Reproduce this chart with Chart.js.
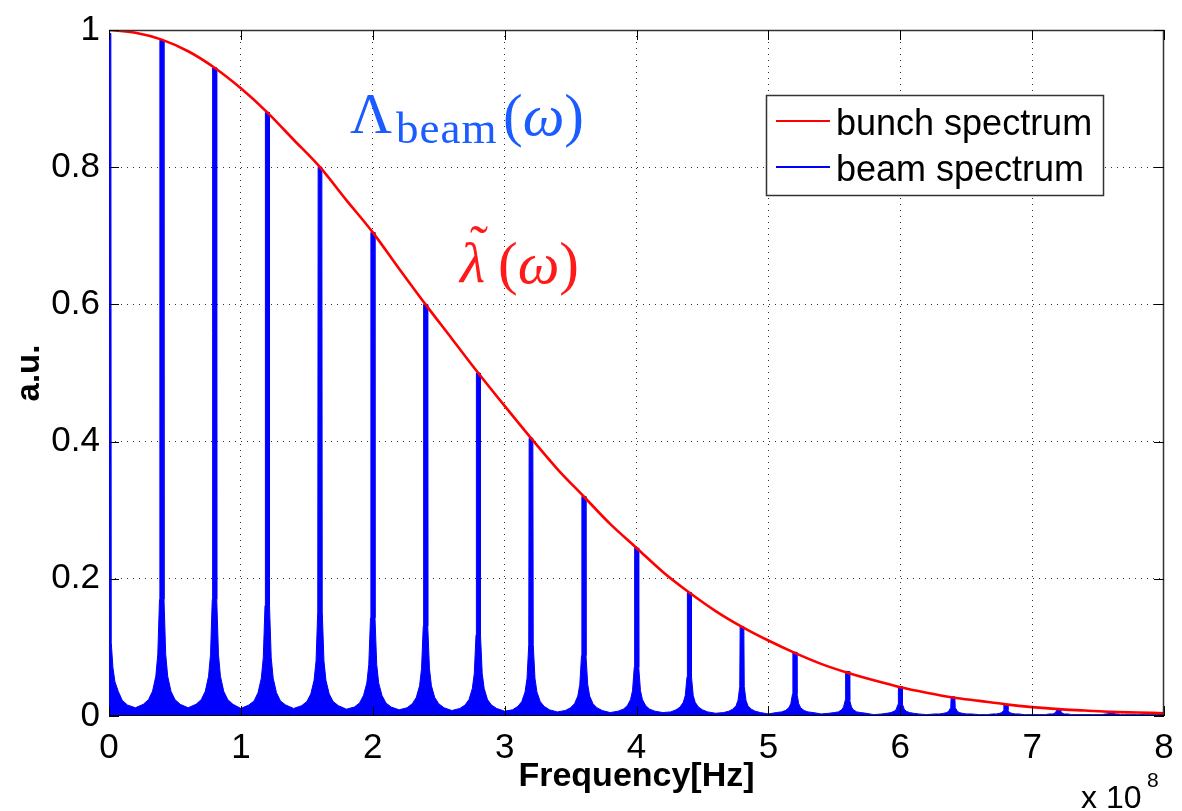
<!DOCTYPE html>
<html>
<head>
<meta charset="utf-8">
<script src="https://cdn.jsdelivr.net/npm/chart.js@4.4.0/dist/chart.umd.min.js"></script>
<style>
  html, body { margin: 0; padding: 0; background: #fff; }
  #wrap { position: relative; width: 1182px; height: 811px; }
  .math { position: absolute; font-family: "Liberation Serif", "DejaVu Serif", serif; white-space: nowrap; line-height: 1; }
  .blue { color: #1a5cff; }
  .red { color: #ff1a1a; }
</style>
</head>
<body>
<div id="wrap">
  <canvas id="spectrumChart"></canvas>
  <div class="math blue" style="left:350px; top:85px; font-size:58px;">Λ</div>
  <div class="math blue" style="left:396px; top:106px; font-size:45px; letter-spacing:1px;">beam</div>
  <div class="math blue" style="left:503px; top:86px; font-size:59px;">(<i>ω</i>)</div>
  <div class="math red" style="left:460px; top:234px; font-size:58px;"><i>λ</i></div>
  <div class="math red" style="left:470px; top:218px; font-size:54px;">˜</div>
  <div class="math red" style="left:498px; top:234px; font-size:59px;">(<i>ω</i>)</div>
</div>
<script>
// bunch spectrum (red), read every 0.2 x 10^8 Hz
const bunchFreq = [0, 0.2, 0.4, 0.6, 0.8, 1.0, 1.2, 1.4, 1.6, 1.8, 2.0, 2.2, 2.4, 2.6, 2.8, 3.0, 3.2, 3.4, 3.6, 3.8,
                   4.0, 4.2, 4.4, 4.6, 4.8, 5.0, 5.2, 5.4, 5.6, 5.8, 6.0, 6.2, 6.4, 6.6, 6.8, 7.0, 7.2, 7.4, 7.6, 7.8, 8.0];
const bunchValue = [1.0, 0.996, 0.986, 0.969, 0.945, 0.915, 0.88, 0.84, 0.80, 0.752, 0.705, 0.652, 0.60, 0.55, 0.50, 0.452,
                    0.405, 0.36, 0.32, 0.28, 0.245, 0.21, 0.18, 0.153, 0.13, 0.11, 0.092, 0.076, 0.063, 0.052, 0.042,
                    0.034, 0.027, 0.022, 0.017, 0.013, 0.010, 0.008, 0.006, 0.005, 0.004];

// beam spectrum (blue): harmonic lines and their skirts
const harmonicFreq = [0, 0.4, 0.8, 1.2, 1.6, 2.0, 2.4, 2.8, 3.2, 3.6, 4.0, 4.4, 4.8, 5.2, 5.6, 6.0, 6.4, 6.8, 7.2, 7.6, 8.0];
const beamPeak = [0.995, 0.985, 0.945, 0.88, 0.80, 0.705, 0.60, 0.50, 0.405, 0.32, 0.245, 0.18, 0.13, 0.093, 0.065, 0.043, 0.028, 0.017, 0.011, 0.006, 0.004];
// skirt heights next to each line, at growing distance from it
const skirtOffset = [0.017, 0.03, 0.045, 0.07, 0.1, 0.14];
const skirt1 = [0.107, 0.170, 0.170, 0.161, 0.152, 0.143, 0.131, 0.118, 0.104, 0.088, 0.071, 0.057, 0.043, 0.032, 0.023, 0.017, 0.012, 0.008, 0.007, 0.005, 0.003];
const skirt2 = [0.070, 0.090, 0.090, 0.085, 0.080, 0.075, 0.069, 0.062, 0.055, 0.046, 0.037, 0.030, 0.023, 0.018, 0.013, 0.010, 0.008, 0.005, 0.004, 0.003, 0.003];
const skirt3 = [0.050, 0.058, 0.058, 0.055, 0.052, 0.048, 0.044, 0.040, 0.035, 0.029, 0.024, 0.020, 0.015, 0.012, 0.009, 0.007, 0.005, 0.004, 0.003, 0.003, 0.002];
const skirt4 = [0.036, 0.036, 0.036, 0.034, 0.032, 0.030, 0.027, 0.024, 0.021, 0.018, 0.015, 0.013, 0.010, 0.008, 0.006, 0.005, 0.004, 0.003, 0.003, 0.002, 0.002];
const skirt5 = [0.023, 0.024, 0.024, 0.022, 0.021, 0.019, 0.018, 0.016, 0.014, 0.012, 0.010, 0.009, 0.007, 0.006, 0.005, 0.004, 0.003, 0.003, 0.002, 0.002, 0.002];
const skirt6 = [0.016, 0.017, 0.017, 0.016, 0.015, 0.013, 0.012, 0.011, 0.009, 0.008, 0.007, 0.006, 0.005, 0.005, 0.004, 0.003, 0.003, 0.002, 0.002, 0.002, 0.002];
// floor half way between two lines
const gapFloor = [0.012, 0.012, 0.011, 0.011, 0.010, 0.009, 0.008, 0.007, 0.006, 0.005, 0.005, 0.004, 0.003, 0.003, 0.002, 0.002, 0.002, 0.002, 0.002, 0.002];

const xTicks = [0, 1, 2, 3, 4, 5, 6, 7, 8];
const yTicks = [0, 0.2, 0.4, 0.6, 0.8, 1];
const yTickText = ["0", "0.2", "0.4", "0.6", "0.8", "1"];
const seriesLabels = ["bunch spectrum", "beam spectrum"];

const FONT = "'Liberation Sans', Arial, Helvetica, sans-serif";
const spikeHalf = 0.014;

const bunchPoints = bunchFreq.map((f, i) => ({x: f, y: bunchValue[i]}));

const skirts = [skirt1, skirt2, skirt3, skirt4, skirt5, skirt6];
let beamPoints = [];
harmonicFreq.forEach((f, k) => {
    if (k > 0) {
        for (let j = skirts.length - 1; j >= 0; j--) {
            beamPoints.push({x: f - skirtOffset[j], y: skirts[j][k]});
        }
        beamPoints.push({x: f - spikeHalf, y: beamPeak[k]});
    } else {
        beamPoints.push({x: f, y: beamPeak[k]});
    }
    beamPoints.push({x: f + spikeHalf, y: beamPeak[k]});
    for (let j = 0; j < skirts.length; j++) {
        beamPoints.push({x: f + skirtOffset[j], y: skirts[j][k]});
    }
    if (k < gapFloor.length) {
        beamPoints.push({x: (f + harmonicFreq[k + 1]) / 2, y: gapFloor[k]});
    }
});

const frame = {
    id: "frame",
    beforeDatasetsDraw(chart) {
        const {ctx, chartArea: a} = chart;
        ctx.save();
        ctx.strokeStyle = "#000";
        ctx.lineWidth = 1;
        ctx.beginPath();
        ctx.moveTo(a.left + 0.5, a.top);
        ctx.lineTo(a.left + 0.5, a.bottom);
        ctx.stroke();
        ctx.restore();
    },
    afterDatasetsDraw(chart) {
        const {ctx, chartArea: a, scales: {x, y}} = chart;
        ctx.save();
        // top edge hides the flat start of the red curve, as in the original
        ctx.fillStyle = "#fff";
        ctx.fillRect(a.left + 1, a.top - 3, 14, 3);
        ctx.lineWidth = 1.5;
        ctx.strokeStyle = "#333";
        ctx.beginPath();
        ctx.moveTo(a.left, a.top + 0.5); ctx.lineTo(a.right - 0.5, a.top + 0.5);
        ctx.lineTo(a.right - 0.5, a.bottom);
        ctx.stroke();
        ctx.lineWidth = 1;
        ctx.strokeStyle = "#000";
        ctx.beginPath();
        ctx.moveTo(a.left, a.bottom - 0.5); ctx.lineTo(a.right, a.bottom - 0.5);
        ctx.stroke();

        // inward tick marks on all four sides
        ctx.beginPath();
        xTicks.forEach(v => {
            const px = Math.round(x.getPixelForValue(v)) + 0.5;
            ctx.moveTo(px, a.bottom); ctx.lineTo(px, a.bottom - 10);
            ctx.moveTo(px, a.top); ctx.lineTo(px, a.top + 10);
        });
        yTicks.forEach(v => {
            const py = Math.round(y.getPixelForValue(v)) + 0.5;
            ctx.moveTo(a.left, py); ctx.lineTo(a.left + 10, py);
            ctx.moveTo(a.right, py); ctx.lineTo(a.right - 10, py);
        });
        ctx.stroke();

        // legend box
        const lx = 766, ly = 95, lw = 337, lh = 100;
        ctx.fillStyle = "#fff";
        ctx.fillRect(lx, ly, lw, lh);
        ctx.strokeStyle = "#333";
        ctx.lineWidth = 1.5;
        ctx.strokeRect(lx + 0.5, ly + 0.5, lw, lh);
        const legendColors = [chart.data.datasets[1].borderColor, chart.data.datasets[0].borderColor];
        ctx.font = "36px " + FONT;
        ctx.textBaseline = "alphabetic";
        ctx.textAlign = "left";
        seriesLabels.forEach((txt, i) => {
            const yy = 121 + i * 46;
            ctx.strokeStyle = legendColors[i];
            ctx.lineWidth = 2;
            ctx.beginPath();
            ctx.moveTo(776, yy); ctx.lineTo(830, yy);
            ctx.stroke();
            ctx.fillStyle = "#000";
            ctx.fillText(txt, 836, yy + 14);
        });

        // axis exponent
        ctx.font = "32px " + FONT;
        ctx.fillText("x 10", 1081, 808);
        ctx.font = "21px " + FONT;
        ctx.fillText("8", 1147, 787);
        ctx.restore();
    }
};

const edgeless = (ctx) => {
    if (!ctx.tick) return "rgba(0,0,0,0)";
    const n = ctx.chart.scales[ctx.scale.id].ticks.length;
    return (ctx.index === 0 || ctx.index === n - 1) ? "rgba(0,0,0,0)" : "#333";
};

new Chart(document.getElementById("spectrumChart"), {
    type: "line",
    data: {
        datasets: [
            {
                label: seriesLabels[1],
                data: beamPoints,
                borderColor: "#0000ff",
                backgroundColor: "#0000ff",
                borderWidth: 1,
                fill: "origin",
                pointRadius: 0,
                tension: 0,
                order: 2
            },
            {
                label: seriesLabels[0],
                data: bunchPoints,
                borderColor: "#ff0000",
                borderWidth: 2.6,
                fill: false,
                pointRadius: 0,
                cubicInterpolationMode: "monotone",
                order: 1
            }
        ]
    },
    options: {
        responsive: true,
        maintainAspectRatio: false,
        animation: false,
        layout: {padding: {top: 25, right: 18, left: 0, bottom: 0}},
        plugins: {legend: {display: false}, tooltip: {enabled: false}},
        scales: {
            x: {
                type: "linear",
                min: 0,
                max: 8,
                afterBuildTicks: (scale) => { scale.ticks = xTicks.map(v => ({value: v})); },
                afterFit: (scale) => {
                    scale.height = 95;
                    scale.paddingLeft = 0;
                    scale.paddingRight = 0;
                },
                ticks: {font: {family: FONT, size: 35}, color: "#000", padding: 11, maxRotation: 0},
                grid: {drawTicks: false, color: edgeless, lineWidth: 1},
                border: {display: false, dash: [1, 5]},
                title: {display: true, text: "Frequency[Hz]", color: "#000",
                        font: {family: FONT, size: 34, weight: "bold"}, padding: {top: 0, bottom: 14}}
            },
            y: {
                min: 0,
                max: 1,
                afterBuildTicks: (scale) => { scale.ticks = yTicks.map(v => ({value: v})); },
                afterFit: (scale) => { scale.width = 109; },
                ticks: {font: {family: FONT, size: 35}, color: "#000", padding: 9,
                        callback: (v, i) => yTickText[i]},
                grid: {drawTicks: false, color: edgeless, lineWidth: 1},
                border: {display: false, dash: [1, 5]},
                title: {display: true, text: "a.u.", color: "#000",
                        font: {family: FONT, size: 33, weight: "bold"}, padding: {top: 10, bottom: 0}}
            }
        }
    },
    plugins: [frame]
});
</script>
</body>
</html>
